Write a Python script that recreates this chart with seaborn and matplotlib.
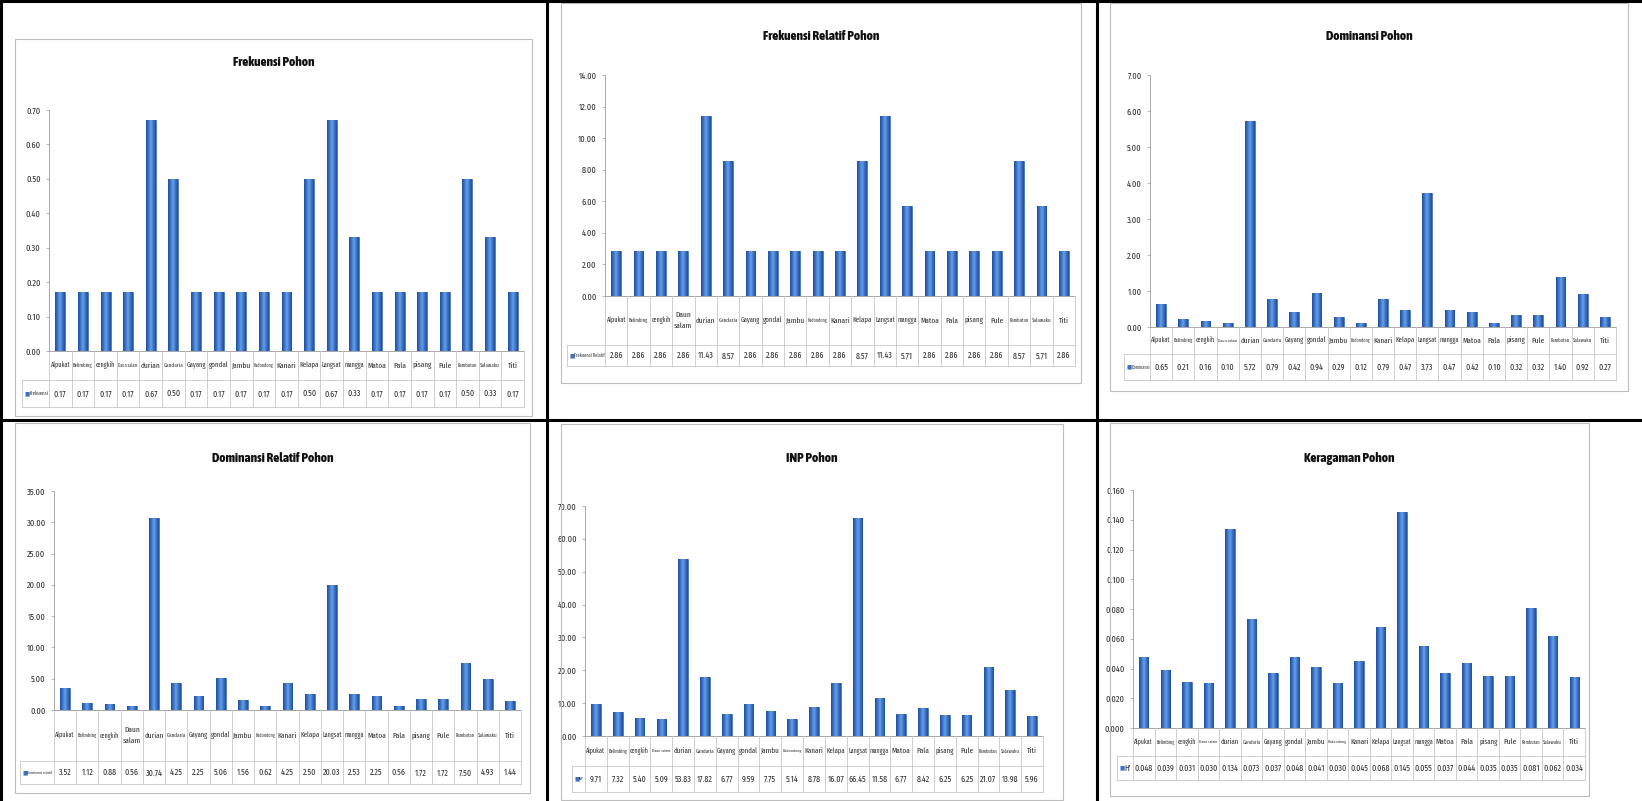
import matplotlib
matplotlib.use('Agg')
import matplotlib.pyplot as plt
from matplotlib import font_manager
from matplotlib.font_manager import FontProperties
from matplotlib.patches import Rectangle
from matplotlib.lines import Line2D
from matplotlib.colors import LinearSegmentedColormap
import numpy as np
import pandas as pd
import seaborn as sns

sns.set_style('white')
plt.rcParams['font.family'] = ['Liberation Sans', 'DejaVu Sans']

W, H = 1642, 801

species = ['Alpukat', 'Belimbing', 'cengkih', 'Daun salam', 'durian', 'Gandaria', 'Gayang',
           'gondal', 'Jambu', 'Kadondong', 'Kanari', 'Kelapa', 'Langsat', 'mangga', 'Matoa',
           'Pala', 'pisang', 'Pule', 'Rambutan', 'Salawaku', 'Titi']

frekuensi = [0.17, 0.17, 0.17, 0.17, 0.67, 0.50, 0.17, 0.17, 0.17, 0.17, 0.17,
             0.50, 0.67, 0.33, 0.17, 0.17, 0.17, 0.17, 0.50, 0.33, 0.17]
frekuensi_relatif = [2.86, 2.86, 2.86, 2.86, 11.43, 8.57, 2.86, 2.86, 2.86, 2.86, 2.86,
                     8.57, 11.43, 5.71, 2.86, 2.86, 2.86, 2.86, 8.57, 5.71, 2.86]
dominansi = [0.65, 0.21, 0.16, 0.10, 5.72, 0.79, 0.42, 0.94, 0.29, 0.12, 0.79,
             0.47, 3.73, 0.47, 0.42, 0.10, 0.32, 0.32, 1.40, 0.92, 0.27]
dominansi_relatif = [3.52, 1.12, 0.88, 0.56, 30.74, 4.25, 2.25, 5.06, 1.56, 0.62, 4.25,
                     2.50, 20.03, 2.53, 2.25, 0.56, 1.72, 1.72, 7.50, 4.93, 1.44]
inp = [9.71, 7.32, 5.40, 5.09, 53.83, 17.82, 6.77, 9.59, 7.75, 5.14, 8.78,
       16.07, 66.45, 11.58, 6.77, 8.42, 6.25, 6.25, 21.07, 13.98, 5.96]
keragaman = [0.048, 0.039, 0.031, 0.030, 0.134, 0.073, 0.037, 0.048, 0.041, 0.030, 0.045,
             0.068, 0.145, 0.055, 0.037, 0.044, 0.035, 0.035, 0.081, 0.062, 0.034]

titles = ['Frekuensi Pohon', 'Frekuensi Relatif Pohon', 'Dominansi Pohon',
          'Dominansi Relatif Pohon', 'INP Pohon', 'Keragaman Pohon']
row_labels = ['Frekuensi', 'Frekuensi Relatif', 'Dominansi', 'Dominansi relatif', 'INP', "H'"]
series = [frekuensi, frekuensi_relatif, dominansi, dominansi_relatif, inp, keragaman]
y_max = [0.70, 14.0, 7.0, 35.0, 70.0, 0.160]
y_step = [0.10, 2.0, 1.0, 5.0, 10.0, 0.020]
decimals = [2, 2, 2, 2, 2, 3]

# pixel layout of each excel chart: frame, title y, plot box, table rows
layouts = [
    dict(frame=(15, 39, 532, 416), title_y=63, x0=49, x1=524, ytop=110, ybase=351, cat_bot=380, data_bot=407, lab=22, wrap=False),
    dict(frame=(561, 3, 1081, 383), title_y=36, x0=605, x1=1075, ytop=75, ybase=296, cat_bot=345, data_bot=366, lab=567, wrap=True),
    dict(frame=(1110, 3, 1628, 391), title_y=37, x0=1150, x1=1616, ytop=75, ybase=327, cat_bot=354, data_bot=380, lab=1124, wrap=False),
    dict(frame=(15, 423, 530, 793), title_y=459, x0=54, x1=521, ytop=491, ybase=710, cat_bot=761, data_bot=784, lab=20, wrap=True),
    dict(frame=(561, 424, 1063, 800), title_y=459, x0=585, x1=1043, ytop=506, ybase=736, cat_bot=766, data_bot=792, lab=572, wrap=False),
    dict(frame=(1110, 423, 1589, 796), title_y=459, x0=1133, x1=1585, ytop=490, ybase=728, cat_bot=756, data_bot=780, lab=1117, wrap=False),
]


def find_narrow(bold):
    # narrowest installed face of the wanted weight (the excel text is squeezed)
    prefer = ['Liberation Sans Narrow', 'DejaVu Sans', 'Noto Sans', 'Open Sans', 'Roboto', 'Lato', 'Inter']
    found = []
    for f in font_manager.fontManager.ttflist:
        key = (f.name + ' ' + str(f.stretch) + ' ' + f.fname).lower()
        if 'narrow' not in key and 'condensed' not in key:
            continue
        if f.style != 'normal' or 'italic' in key:
            continue
        w = f.weight if isinstance(f.weight, int) else {'bold': 700, 'normal': 400, 'regular': 400}.get(str(f.weight), 400)
        if bold and not (600 <= w <= 800):
            continue
        if not bold and w != 400:
            continue
        level = 2 if ('extra' in key or 'ultra' in key) else (0 if 'semi' in key else 1)
        rank = prefer.index(f.name) if f.name in prefer else len(prefer)
        found.append((-level, rank, f.fname))
    if found:
        return FontProperties(fname=sorted(found)[0][2])
    return FontProperties(family=['Liberation Sans', 'DejaVu Sans'], weight='bold' if bold else 'normal')


fp_reg = find_narrow(False)
fp_bold = find_narrow(True)

bar_cmap = LinearSegmentedColormap.from_list('excel', ['#1f4f9c', '#3a73c8', '#6a9fe4', '#3a73c8', '#1f4f9c'])
grid_gray = '#c8c8c8'
text_gray = '#333333'


def px_rect(x0, y0, x1, y1):
    return [x0 / W, 1 - y1 / H, (x1 - x0) / W, (y1 - y0) / H]


def fit_text(t, max_px, renderer, base):
    # shrink a text only if it is wider than its table cell
    width = t.get_window_extent(renderer).width
    if width > max_px:
        t.set_fontsize(base * max_px / width)


def draw_panel(fig, renderer, title, values, row_label, ymax, step, dec, lay):
    fx0, fy0, fx1, fy1 = lay['frame']
    fig.add_artist(Rectangle((fx0 / W, 1 - fy1 / H), (fx1 - fx0) / W, (fy1 - fy0) / H,
                             transform=fig.transFigure, fill=False, ec='#bdbdbd', lw=0.8))
    fig.text((fx0 + fx1) / 2 / W, 1 - lay['title_y'] / H, title, ha='center', va='center',
             fontproperties=fp_bold, fontsize=9.5, color='#111111')

    ax = fig.add_axes(px_rect(lay['x0'], lay['ytop'], lay['x1'], lay['ybase']))
    df = pd.DataFrame({'jenis': species, 'nilai': values})
    sns.barplot(data=df, x='jenis', y='nilai', ax=ax, color='#3a72c4', saturation=1,
                width=0.44, edgecolor='#24549f', linewidth=0.4)

    # excel-like gradient fill on every bar
    grad = np.linspace(0, 1, 64).reshape(1, -1)
    for bar in list(ax.patches):
        bb = bar.get_bbox()
        im = ax.imshow(grad, extent=[bb.x0, bb.x1, bb.y0, bb.y1], aspect='auto',
                       cmap=bar_cmap, zorder=bar.get_zorder() + 0.1, interpolation='bilinear')
        im.set_clip_path(bar)

    n = len(species)
    ax.set_xlim(-0.5, n - 0.5)
    ax.set_ylim(0, ymax)
    ticks = np.arange(0, ymax + step / 2, step)
    ax.set_yticks(ticks)
    ax.set_yticklabels([f'{t:.{dec}f}' for t in ticks], fontproperties=fp_reg, fontsize=6.5)
    ax.set_xticks([])
    ax.set_xlabel('')
    ax.set_ylabel('')
    ax.tick_params(axis='y', length=2, width=0.5, color='#999999',
                   labelcolor=text_gray, pad=4, left=True)
    for side in ['top', 'right', 'bottom']:
        ax.spines[side].set_visible(False)
    ax.spines['left'].set_color('#999999')
    ax.spines['left'].set_linewidth(0.6)
    ax.patch.set_alpha(0)

    # data table under the axis
    hpx = lay['ybase'] - lay['ytop']
    to_ax = lambda ypx: -(ypx - lay['ybase']) / hpx
    cell_px = (lay['x1'] - lay['x0']) / n
    x_lab = -0.5 + (lay['lab'] - lay['x0']) / cell_px
    tr = ax.get_xaxis_transform()
    y_cat, y_dat = to_ax(lay['cat_bot']), to_ax(lay['data_bot'])
    kw = dict(transform=tr, color=grid_gray, lw=0.6, clip_on=False)
    ax.plot([-0.5, n - 0.5], [0, 0], color='#999999', lw=0.6, transform=tr, clip_on=False)
    ax.plot([x_lab, n - 0.5], [y_cat, y_cat], **kw)
    ax.plot([x_lab, n - 0.5], [y_dat, y_dat], **kw)
    ax.plot([x_lab, x_lab], [y_cat, y_dat], **kw)
    for i in range(n + 1):
        ax.plot([i - 0.5, i - 0.5], [0, y_dat], **kw)
    y_cat_mid = (0 + y_cat) / 2
    y_dat_mid = (y_cat + y_dat) / 2
    for i, (name, v) in enumerate(zip(species, values)):
        label = name.replace(' ', '\n') if (lay['wrap'] and name == 'Daun salam') else name
        t = ax.text(i, y_cat_mid, label, transform=tr, ha='center', va='center',
                    fontproperties=fp_reg, fontsize=5.8, color=text_gray, linespacing=1.6)
        fit_text(t, cell_px - 3, renderer, 5.8)
        t = ax.text(i, y_dat_mid, f'{v:.{dec}f}', transform=tr, ha='center', va='center',
                    fontproperties=fp_reg, fontsize=6.3, color=text_gray)
        fit_text(t, cell_px - 3, renderer, 6.3)
    ax.text(x_lab + 0.1, y_dat_mid, '\u25a0', transform=tr, ha='left', va='center',
            fontsize=4, color='#3a72c4', family='DejaVu Sans')
    lab_text = ax.text(x_lab + 0.1 + 5.0 / cell_px, y_dat_mid, row_label, transform=tr, ha='left',
                       va='center', fontproperties=fp_reg, fontsize=6.3, color=text_gray)
    fit_text(lab_text, (lay['x0'] - lay['lab']) - 8, renderer, 6.3)
    return ax


fig = plt.figure(figsize=(W / 100, H / 100), dpi=100)
fig.patch.set_facecolor('white')
renderer = fig.canvas.get_renderer()

for t, vals, rl, ym, st, dc, lay in zip(titles, series, row_labels, y_max, y_step, decimals, layouts):
    draw_panel(fig, renderer, t, vals, rl, ym, st, dc, lay)

# black cell borders of the document table
bk = dict(color='black', lw=2.2, transform=fig.transFigure)
fig.add_artist(Line2D([547 / W, 547 / W], [0, 1], **bk))
fig.add_artist(Line2D([1097 / W, 1097 / W], [0, 1], **bk))
fig.add_artist(Line2D([0, 1], [1 - 420 / H, 1 - 420 / H], **bk))
fig.add_artist(Line2D([1.2 / W, 1.2 / W], [0, 1], **bk))
fig.add_artist(Line2D([0, 1], [1 - 1.2 / H, 1 - 1.2 / H], **bk))

fig.savefig('out.png', dpi=100)
